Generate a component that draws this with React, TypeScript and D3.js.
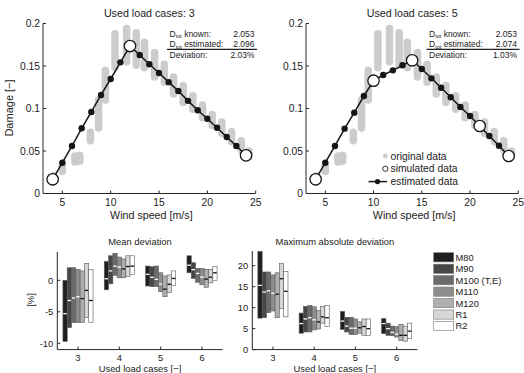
import React from 'react';
import * as d3 from 'd3';

const FONT = '"Liberation Sans", Arial, Helvetica, sans-serif';

// ---------- top panels data ----------
const windSpeeds = [4, 5, 6, 7, 8, 9, 10, 11, 12, 13, 14, 15, 16, 17, 18, 19, 20, 21, 22, 23, 24];
const estimated3 = [0.0167, 0.0362, 0.0559, 0.0767, 0.0959, 0.1159, 0.1347, 0.1543, 0.1735, 0.163, 0.152, 0.1418, 0.131, 0.1206, 0.109, 0.098, 0.088, 0.0774, 0.0665, 0.0559, 0.0449];
const estimated5 = [0.0167, 0.0362, 0.0559, 0.0763, 0.0951, 0.1147, 0.1327, 0.1394, 0.1449, 0.1508, 0.1567, 0.1465, 0.1355, 0.1245, 0.1132, 0.1018, 0.0912, 0.0794, 0.0676, 0.0562, 0.0441];
const simulated3 = [4, 12, 24];
const simulated5 = [4, 10, 14, 21, 24];

// original data clusters: wind speed, lowest and highest damage
const origWs = [4.1, 5.0, 6.3, 6.8, 7.9, 8.75, 9.45, 10.45, 11.65, 12.65, 13.5, 14.55, 15.55, 16.5, 17.5, 18.5, 19.5, 20.5, 21.5, 22.5, 23.5, 24.3];
const origLo = [0.014, 0.026, 0.037, 0.038, 0.062, 0.077, 0.110, 0.148, 0.155, 0.151, 0.148, 0.137, 0.131, 0.117, 0.107, 0.099, 0.089, 0.080, 0.071, 0.061, 0.051, 0.043];
const origHi = [0.021, 0.034, 0.044, 0.045, 0.072, 0.110, 0.145, 0.188, 0.194, 0.189, 0.178, 0.166, 0.152, 0.137, 0.127, 0.115, 0.104, 0.093, 0.084, 0.073, 0.062, 0.050];

const windTicks = [5, 10, 15, 20, 25];
const damageTicks = [0, 0.05, 0.1, 0.15, 0.2];
const damageTickLabels = ['0', '0.05', '0.1', '0.15', '0.2'];

const dKnown = '2.053';
const dEst3 = '2.096';
const dEst5 = '2.074';
const dev3 = '2.03%';
const dev5 = '1.03%';

// ---------- bottom panels data ----------
const loadCases = [3, 4, 5, 6];
const seriesNames = ['M80', 'M90', 'M100 (T,E)', 'M110', 'M120', 'R1', 'R2'];
const seriesColors = ['#1f1f1f', '#474747', '#6b6b6b', '#8d8d8d', '#afafaf', '#d6d6d6', '#ffffff'];

// mean deviation [%] : per series, per load case
const meanHi = [
  [0.0, 3.0, 2.27, 3.9],
  [2.0, 3.9, 2.17, 2.8],
  [2.0, 4.3, 2.27, 1.9],
  [1.75, 3.7, 1.2, 1.9],
  [1.5, 3.4, 0.7, 1.75],
  [2.7, 3.9, 0.85, 1.75],
  [1.75, 3.9, 1.5, 2.2],
];
const meanMid = [
  [-5.3, 0.25, 0.95, 2.4],
  [-3.2, 1.5, 0.48, 1.7],
  [-2.8, 2.25, 0.16, 1.1],
  [-2.6, 2.1, -0.6, 0.5],
  [-2.9, 1.8, -1.4, 0.2],
  [-1.6, 2.2, -0.63, 0.5],
  [-3.2, 2.25, 0.3, 1.2],
];
const meanLo = [
  [-9.7, -1.5, -0.9, 1.2],
  [-7.5, -0.55, -1.0, 0.3],
  [-6.7, 0.8, -1.0, -0.3],
  [-6.7, 0.4, -1.8, -0.7],
  [-6.7, 0.4, -2.6, -1.1],
  [-5.9, 0.6, -1.95, -0.4],
  [-6.7, 0.95, -0.85, -0.05],
];

// maximum absolute deviation [%]
const maxHi = [
  [23.4, 8.7, 9.1, 7.4],
  [18.5, 10.3, 7.7, 6.3],
  [18.5, 10.5, 7.7, 5.6],
  [17.8, 10.2, 7.3, 5.5],
  [18.3, 9.3, 6.6, 6.0],
  [20.5, 10.3, 7.3, 5.6],
  [18.6, 10.5, 7.3, 6.3],
];
const maxMid = [
  [15.3, 6.2, 6.8, 6.2],
  [13.7, 7.3, 5.6, 5.0],
  [14.0, 7.6, 5.1, 4.1],
  [13.4, 7.1, 5.1, 3.7],
  [13.2, 6.6, 5.2, 3.4],
  [16.9, 7.8, 5.5, 3.4],
  [13.9, 7.6, 5.0, 4.4],
];
const maxLo = [
  [7.5, 3.9, 4.8, 3.8],
  [7.6, 4.2, 4.2, 3.4],
  [8.8, 4.2, 3.6, 3.3],
  [9.2, 4.7, 3.6, 3.0],
  [7.6, 4.9, 3.9, 2.2],
  [9.8, 6.3, 3.4, 2.0],
  [7.8, 5.5, 3.4, 2.6],
];
const meanTicks = [-10, -5, 0];
const maxTicks = [0, 5, 10, 15, 20];

const AX = '#262626';

function TopPanel({ xr, title, est, sim, dEst, dev, showYLabel, showLegend, annX0, annX1 }: any) {
  const x = d3.scaleLinear().domain([3, 25]).range(xr);
  const y = d3.scaleLinear().domain([0, 0.2]).range([193.5, 23.5]);
  const line = d3.line<number>().x((_, i) => x(windSpeeds[i])).y((d) => y(d));
  const cx = (xr[0] + xr[1]) / 2;
  return (
    <g fontFamily={FONT}>
      <text x={cx} y={17} textAnchor="middle" fontSize={10.7} fill="#222">{title}</text>
      {origWs.map((w, i) => (
        <line key={'o' + i} x1={x(w)} x2={x(w)} y1={y(origLo[i])} y2={y(origHi[i])}
          stroke="#cccccc" strokeWidth={7.5} strokeLinecap="round" />
      ))}
      <path d={line(est) || ''} fill="none" stroke="#161616" strokeWidth={1.5} />
      {windSpeeds.map((w, i) => sim.includes(w) ? null : (
        <circle key={'f' + i} cx={x(w)} cy={y(est[i])} r={3.2} fill="#161616" />
      ))}
      {windSpeeds.map((w, i) => sim.includes(w) ? (
        <circle key={'s' + i} cx={x(w)} cy={y(est[i])} r={5.7} fill="#fff" stroke="#161616" strokeWidth={1.3} />
      ) : null)}
      {/* axes */}
      <line x1={xr[0]} x2={xr[0]} y1={y(0)} y2={y(0.2)} stroke={AX} strokeWidth={1} />
      <line x1={xr[0]} x2={xr[1]} y1={y(0)} y2={y(0)} stroke={AX} strokeWidth={1} />
      {windTicks.map((t) => (
        <g key={'xt' + t}>
          <line x1={x(t)} x2={x(t)} y1={y(0)} y2={y(0) - 3} stroke={AX} />
          <text x={x(t)} y={206} textAnchor="middle" fontSize={10.3} fill="#222">{t}</text>
        </g>
      ))}
      {damageTicks.map((t, i) => (
        <g key={'yt' + t}>
          <line x1={xr[0]} x2={xr[0] + 3} y1={y(t)} y2={y(t)} stroke={AX} />
          <text x={xr[0] - 3} y={y(t) + 3.6} textAnchor="end" fontSize={10.3} fill="#222">{damageTickLabels[i]}</text>
        </g>
      ))}
      <text x={cx + 2} y={219} textAnchor="middle" fontSize={10.7} fill="#222">Wind speed [m/s]</text>
      {showYLabel && (
        <text transform={`translate(13,108) rotate(-90)`} textAnchor="middle" fontSize={11} fill="#222">Damage [−]</text>
      )}
      {/* annotation */}
      <g fontSize={8.5} fill="#222">
        <text x={annX0 + 2.5} y={36.5}>D<tspan fontSize={5.5} dy={1.5}>tot</tspan><tspan dy={-1.5}> known:</tspan></text>
        <text x={annX1 - 2.5} y={36.5} textAnchor="end">{dKnown}</text>
        <text x={annX0 + 2.5} y={47.3}>D<tspan fontSize={5.5} dy={1.5}>tot</tspan><tspan dy={-1.5}> estimated:</tspan></text>
        <text x={annX1 - 2.5} y={47.3} textAnchor="end">{dEst}</text>
        <line x1={annX0} x2={annX1} y1={49.4} y2={49.4} stroke="#222" strokeWidth={1.4} />
        <text x={annX0 + 2.5} y={58.3}>Deviation:</text>
        <text x={annX1 - 2.5} y={58.3} textAnchor="end">{dev}</text>
      </g>
      {showLegend && (
        <g fontSize={10.3} fill="#222">
          <circle cx={385.3} cy={156} r={2.4} fill="#c9c9c9" />
          <text x={390.5} y={159.6}>original data</text>
          <circle cx={385.3} cy={168.8} r={2.6} fill="#fff" stroke="#161616" strokeWidth={0.9} />
          <text x={390.5} y={172.4}>simulated data</text>
          <line x1={368.5} x2={387} y1={181.6} y2={181.6} stroke="#161616" strokeWidth={1.5} />
          <circle cx={377.5} cy={181.6} r={2.7} fill="#161616" />
          <text x={390.5} y={185.2}>estimated data</text>
        </g>
      )}
    </g>
  );
}

function BottomPanel({ xr, yDomain, yRange, ticks, hi, mid, lo, title, yLabel }: any) {
  const x = d3.scaleLinear().domain([2.5, 6.5]).range(xr);
  const y = d3.scaleLinear().domain(yDomain).range(yRange);
  const bw = 4.3;
  const cx = (xr[0] + xr[1]) / 2;
  return (
    <g fontFamily={FONT}>
      <text x={cx} y={244.5} textAnchor="middle" fontSize={9.4} fill="#222">{title}</text>
      {seriesNames.map((s, i) => loadCases.map((lc, j) => {
        const c = x(lc) + (i - 3) * bw;
        return (
          <g key={s + lc}>
            <rect x={c - bw / 2} width={bw} y={y(hi[i][j])} height={y(lo[i][j]) - y(hi[i][j])}
              fill={seriesColors[i]} stroke="#5a5a5a" strokeWidth={0.6} />
            <line x1={c - bw / 2 + 0.3} x2={c + bw / 2 - 0.3} y1={y(mid[i][j])} y2={y(mid[i][j])}
              stroke={i <= 3 ? '#ffffff' : '#111111'} strokeWidth={1.3} />
          </g>
        );
      }))}
      <line x1={xr[0]} x2={xr[0]} y1={yRange[0]} y2={yRange[1]} stroke={AX} />
      <line x1={xr[0]} x2={xr[1]} y1={yRange[0]} y2={yRange[0]} stroke={AX} />
      {loadCases.map((t) => (
        <g key={'bx' + t}>
          <line x1={x(t)} x2={x(t)} y1={yRange[0]} y2={yRange[0] - 3} stroke={AX} />
          <text x={x(t)} y={360.5} textAnchor="middle" fontSize={9.4} fill="#222">{t}</text>
        </g>
      ))}
      {ticks.map((t: number) => (
        <g key={'by' + t}>
          <line x1={xr[0]} x2={xr[0] + 3} y1={y(t)} y2={y(t)} stroke={AX} />
          <text x={xr[0] - 4} y={y(t) + 3.3} textAnchor="end" fontSize={9.4} fill="#222">{t}</text>
        </g>
      ))}
      <text x={cx} y={371.5} textAnchor="middle" fontSize={9.4} fill="#222">Used load cases [−]</text>
      {yLabel && (
        <text transform={`translate(34,300) rotate(-90)`} textAnchor="middle" fontSize={9.4} fill="#222">{yLabel}</text>
      )}
    </g>
  );
}

function Legend() {
  const rowY = d3.scaleLinear().domain([0, 6]).range([257.3, 326]);
  return (
    <g fontFamily={FONT} fontSize={9.4} fill="#222">
      {seriesNames.map((s, i) => (
        <g key={s}>
          <rect x={433.7} y={rowY(i) - 4.6} width={20} height={9.2} fill={seriesColors[i]} stroke="#777" strokeWidth={0.6} />
          <text x={455.5} y={rowY(i) + 3.4}>{s}</text>
        </g>
      ))}
    </g>
  );
}

export default function App() {
  return (
    <svg width={524} height={373} style={{ position: 'absolute', left: 0, top: 0, background: '#fff' }}>
      <rect width={524} height={373} fill="#fff" />
      <TopPanel xr={[43, 255.7]} title="Used load cases: 3" est={estimated3} sim={simulated3}
        dEst={dEst3} dev={dev3} showYLabel showLegend={false} annX0={167} annX1={257} />
      <TopPanel xr={[306, 518.3]} title="Used load cases: 5" est={estimated5} sim={simulated5}
        dEst={dEst5} dev={dev5} showYLabel={false} showLegend annX0={426.5} annX1={519.5} />
      <BottomPanel xr={[57.3, 222.7]} yDomain={[-11, 4.5]} yRange={[349.6, 252]} ticks={meanTicks}
        hi={meanHi} mid={meanMid} lo={meanLo} title="Mean deviation" yLabel="[%]" />
      <BottomPanel xr={[252.3, 417.3]} yDomain={[0, 23.5]} yRange={[349.6, 251]} ticks={maxTicks}
        hi={maxHi} mid={maxMid} lo={maxLo} title="Maximum absolute deviation" yLabel={null} />
      <Legend />
    </svg>
  );
}
